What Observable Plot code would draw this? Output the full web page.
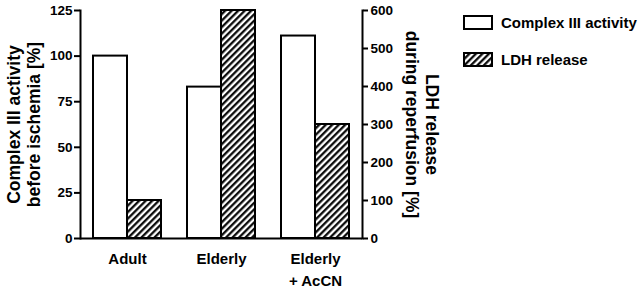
<!DOCTYPE html>
<html>
<head>
<meta charset="utf-8">
<script src="https://cdn.jsdelivr.net/npm/d3@7"></script>
<script src="https://cdn.jsdelivr.net/npm/@observablehq/plot@0.6"></script>
<style>
  html, body { margin: 0; padding: 0; background: #fff; }
  #wrap { position: relative; width: 640px; height: 292px; font-family: "Liberation Sans", Arial, sans-serif; font-weight: bold; color: #000; }
  #wrap svg text { font-weight: bold; }
  #legend { position: absolute; left: 463px; top: 14px; }
  .item { display: flex; align-items: center; height: 16px; margin-bottom: 21px; font-size: 15px; white-space: nowrap; }
  .item svg { margin-right: 8px; display: block; }
</style>
</head>
<body>
<div id="wrap"><div id="legend"></div></div>
<script>
const categories = ["Adult", "Elderly", "Elderly\n+ AcCN"];
const complexIII = [100, 83, 111];
const ldhRelease = [100, 600, 300];
const series = ["Complex III activity", "LDH release"];
const leftTicks = [0, 25, 50, 75, 100, 125];
const rightTicks = [0, 100, 200, 300, 400, 500, 600];
const leftMax = 125;
const rightMax = 600;
const leftLabel = "Complex III activity\nbefore ischemia [%]";
const rightLabel = "LDH release\nduring reperfusion [%]";

const toLeft = v => v * leftMax / rightMax;
const table = categories.map((c, i) => ({category: c, complex: complexIII[i], ldh: ldhRelease[i]}));

const chart = Plot.plot({
  width: 640,
  height: 292,
  marginLeft: 80,
  marginRight: 278,
  marginTop: 10,
  marginBottom: 54,
  style: {fontFamily: '"Liberation Sans", Arial, sans-serif', fontWeight: "bold", color: "#000", background: "transparent"},
  x: {domain: categories, padding: 0, axis: null},
  y: {domain: [0, leftMax], axis: null},
  marks: [
    Plot.barY(table, {x: "category", y: "complex", fill: "white", stroke: "black", strokeWidth: 2, insetLeft: 13, insetRight: 47}),
    Plot.barY(table, {x: "category", y: d => toLeft(d.ldh), fill: "url(#hatch)", stroke: "black", strokeWidth: 2, insetLeft: 47, insetRight: 13}),
    Plot.ruleY([0], {stroke: "black", strokeWidth: 2}),
    Plot.frame({anchor: "left", stroke: "black", strokeWidth: 2}),
    Plot.frame({anchor: "right", stroke: "black", strokeWidth: 2}),
    Plot.axisX({tickSize: 0, tickPadding: 10, fontSize: 15, fontWeight: "bold", lineHeight: 1.45, label: null}),
    Plot.axisY(leftTicks, {anchor: "left", tickSize: 6, tickPadding: 2, strokeWidth: 2, fontSize: 13.5, fontWeight: "bold", label: null}),
    Plot.axisY(rightTicks.map(toLeft), {anchor: "right", tickSize: 5, tickPadding: 3, strokeWidth: 2, fontSize: 13.5, fontWeight: "bold", label: null,
      tickFormat: d => String(Math.round(d * rightMax / leftMax))}),
    Plot.text([leftLabel], {frameAnchor: "left", textAnchor: "middle", lineAnchor: "middle", rotate: -90, dx: -57, fontSize: 17.5, lineHeight: 1.15, fontWeight: "bold"}),
    Plot.text([rightLabel], {frameAnchor: "right", textAnchor: "middle", lineAnchor: "middle", rotate: 90, dx: 60, fontSize: 17.5, lineHeight: 1.15, fontWeight: "bold"})
  ]
});

// hatch pattern definition
function addHatch(defsSel, id) {
  const w = 4.6;
  const p = defsSel.append("pattern").attr("id", id).attr("patternUnits", "userSpaceOnUse")
    .attr("width", w).attr("height", w).attr("patternTransform", "rotate(45)");
  p.append("rect").attr("width", w).attr("height", w).attr("fill", "white");
  p.append("line").attr("x1", 1.2).attr("y1", 0).attr("x2", 1.2).attr("y2", w).attr("stroke", "black").attr("stroke-width", 2.2);
}
const svg = d3.select(chart);
addHatch(svg.insert("defs", ":first-child"), "hatch");

document.getElementById("wrap").prepend(chart);
chart.style.display = "block";

// legend
const legend = d3.select("#legend");
series.forEach((name, i) => {
  const item = legend.append("div").attr("class", "item");
  const s = item.append("svg").attr("width", 30).attr("height", 15);
  if (i === 1) addHatch(s.append("defs"), "hatchLegend");
  s.append("rect").attr("x", 1).attr("y", 1).attr("width", 28).attr("height", 13)
    .attr("fill", i === 0 ? "white" : "url(#hatchLegend)").attr("stroke", "black").attr("stroke-width", 2);
  item.append("span").text(name);
});
</script>
</body>
</html>
